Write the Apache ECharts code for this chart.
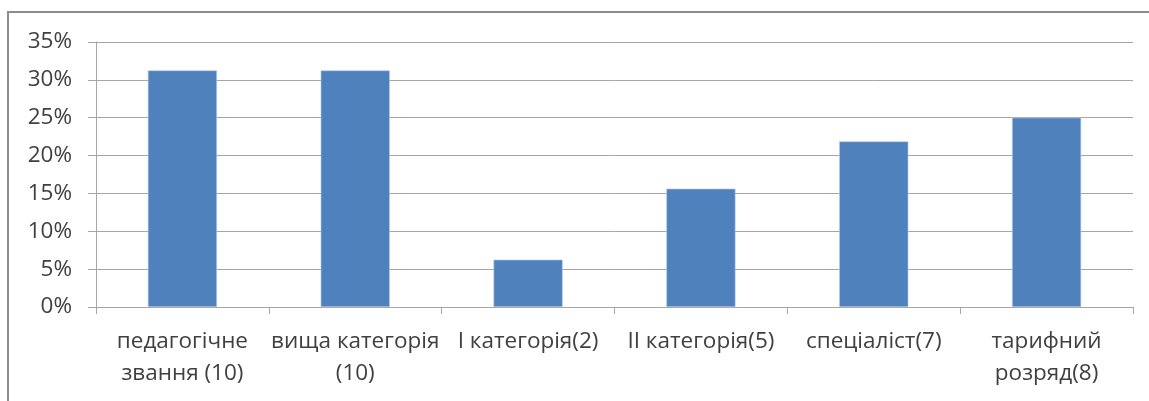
<!DOCTYPE html>
<html>
<head>
<meta charset="utf-8">
<script src="https://cdn.jsdelivr.net/npm/echarts@6/dist/echarts.min.js"></script>
<style>
html,body{margin:0;padding:0;background:#fff;}
#frame{position:absolute;left:7px;top:11px;width:1142px;height:390px;border-left:2px solid #8c8c8c;border-top:2px solid #8c8c8c;box-sizing:border-box;}
#chart{position:absolute;left:0;top:0;width:1149px;height:401px;}
</style>
</head>
<body>
<div id="frame"></div>
<div id="chart"></div>
<script>
const categories = ["педагогічне\nзвання (10)", "вища категорія\n(10)", "І категорія(2)", "ІІ категорія(5)", "спеціаліст(7)", "тарифний\nрозряд(8)"];
const values = [31.25, 31.25, 6.25, 15.625, 21.875, 25];
const yTicks = [0, 5, 10, 15, 20, 25, 30, 35];

const chart = echarts.init(document.getElementById('chart'), null, {renderer: 'canvas'});
chart.setOption({
  animation: false,
  backgroundColor: 'transparent',
  grid: {left: 96, right: 16, top: 42, bottom: 94, containLabel: false},
  xAxis: {
    type: 'category',
    data: categories,
    axisLine: {lineStyle: {color: '#a6a6a6', width: 1}},
    axisTick: {show: true, length: 7, lineStyle: {color: '#a6a6a6'}},
    axisLabel: {
      margin: 19,
      interval: 0,
      color: '#404040',
      fontFamily: 'Open Sans',
      fontSize: 22.5,
      lineHeight: 32
    },
    splitLine: {show: false}
  },
  yAxis: {
    type: 'value',
    min: yTicks[0],
    max: yTicks[yTicks.length - 1],
    interval: 5,
    axisLine: {show: true, lineStyle: {color: '#a6a6a6', width: 1}},
    axisTick: {show: true, length: 8, lineStyle: {color: '#a6a6a6'}},
    axisLabel: {
      margin: 24,
      color: '#404040',
      fontFamily: 'Open Sans',
      fontSize: 22.5,
      formatter: v => v + '%'
    },
    splitLine: {show: true, lineStyle: {color: '#a6a6a6', width: 1}}
  },
  series: [{
    type: 'bar',
    data: values,
    barWidth: '40%',
    itemStyle: {color: '#4f81bd', borderColor: '#b9cde5', borderWidth: 0.6}
  }]
});
</script>
</body>
</html>
